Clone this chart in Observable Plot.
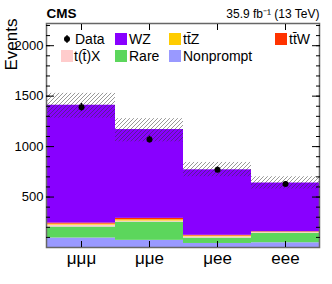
<!DOCTYPE html>
<html><head><meta charset="utf-8">
<script src="https://cdn.jsdelivr.net/npm/d3@7"></script>
<script src="https://cdn.jsdelivr.net/npm/@observablehq/plot@0.6"></script>
<style>body{margin:0;background:#fff} svg{display:block}</style>
</head><body><div id="chart"></div>
<script>
const categories = ["μμμ", "μμe", "μee", "eee"];
const processes = ["Nonprompt", "Rare", "t(t\u0304)X", "tt\u0304Z", "tt\u0304W", "WZ"];
const colors = ["#9999ff", "#5cd65c", "#ffcccc", "#ffcc00", "#ff3300", "#8800ff"];
const nonprompt = [94, 71, 40, 47];
const rare = [109, 181, 54, 93];
const ttX = [19, 10, 12, 8];
const ttZ = [10, 13, 8, 5];
const ttW = [10, 14, 7, 3];
const wz = [1168, 880, 649, 483];
const uncLow = [1282, 1047, 701, 580];
const uncHigh = [1528, 1277, 843, 701];
const dataVal = [1390, 1070, 770, 629];
const dataErr = [37, 33, 28, 25];
const yMajorTicks = [500, 1000, 1500, 2000];
const yMinorTicks = [100,200,300,400,500,600,700,800,900,1000,1100,1200,1300,1400,1500,1600,1700,1800,1900,2000,2100,2200];

const series = [nonprompt, rare, ttX, ttZ, ttW, wz];
const rows = [];
categories.forEach((c, i) => processes.forEach((p, j) => rows.push({cat: c, proc: p, value: series[j][i]})));
const unc = categories.map((c, i) => ({cat: c, lo: uncLow[i], hi: uncHigh[i]}));
const pts = categories.map((c, i) => ({cat: c, v: dataVal[i], lo: dataVal[i] - dataErr[i], hi: dataVal[i] + dataErr[i]}));

const font = "'Liberation Sans', Arial, sans-serif";
const plot = Plot.plot({
  width: 332, height: 284,
  marginTop: 23, marginBottom: 37, marginLeft: 46, marginRight: 13,
  style: {fontFamily: font, background: "#fff", color: "#000"},
  x: {type: "band", domain: categories, padding: 0, label: null},
  y: {domain: [0, 2220], label: null},
  color: {domain: processes, range: colors},
  marks: [
    Plot.barY(rows, {x: "cat", y: "value", fill: "proc", order: processes}),
    Plot.barY(unc, {x: "cat", y1: "lo", y2: "hi", fill: "url(#hatch)"}),
    Plot.ruleX(pts, {x: "cat", y1: "lo", y2: "hi", stroke: "black", strokeWidth: 1.5}),
    Plot.dot(pts, {x: "cat", y: "v", r: 3, fill: "black"}),
    Plot.frame({stroke: "#666", strokeWidth: 1.5}),
    Plot.axisY(yMinorTicks, {anchor: "left", tickSize: -4, text: null, label: null}),
    Plot.axisY(yMajorTicks, {anchor: "left", tickSize: -8, text: null, label: null}),
    Plot.axisY(yMajorTicks, {anchor: "left", tickSize: 0, tickPadding: 3, fontSize: 13, label: null, tickFormat: d3.format("d")}),
    Plot.axisY(yMinorTicks, {anchor: "right", tickSize: -4, text: null, label: null}),
    Plot.axisY(yMajorTicks, {anchor: "right", tickSize: -8, text: null, label: null}),
    Plot.axisX({anchor: "bottom", tickSize: -6, text: null, label: null}),
    Plot.axisX({anchor: "top", tickSize: -6, text: null, label: null}),
    Plot.axisX({anchor: "bottom", tickSize: 0, tickPadding: 4, fontSize: 17, label: null}),
    Plot.text(["CMS"], {frameAnchor: "top-left", text: d => d, textAnchor: "start", lineAnchor: "bottom", dy: -6, fontWeight: "bold", fontSize: 13.5}),
    Plot.text(["35.9 fb\u207B\u00B9 (13 TeV)"], {frameAnchor: "top-right", text: d => d, textAnchor: "end", lineAnchor: "bottom", dy: -6, fontSize: 12}),
    Plot.text(["Events"], {frameAnchor: "top-left", text: d => d, rotate: -90, textAnchor: "end", lineAnchor: "bottom", dx: -30, dy: -5, fontSize: 17})
  ]
});

const svg = d3.select(plot);
const defs = svg.insert("defs", ":first-child");
const pat = defs.append("pattern").attr("id", "hatch").attr("patternUnits", "userSpaceOnUse").attr("width", 4).attr("height", 4);
pat.append("path").attr("d", "M-1,1 l2,-2 M0,4 l4,-4 M3,5 l2,-2").attr("stroke", "rgba(50,50,50,0.5)").attr("stroke-width", 1);

// legend layout (columns x, rows y)
const legendItems = [
  {label: "Data", kind: "data", x: 67, tx: 75, row: 0},
  {label: "WZ", kind: "box", x: 115, tx: 129, row: 0},
  {label: "tt\u0304Z", kind: "box", x: 169, tx: 183, row: 0},
  {label: "tt\u0304W", kind: "box", x: 275, tx: 289, row: 0},
  {label: "t(t\u0304)X", kind: "box", x: 61, tx: 74, row: 1},
  {label: "Rare", kind: "box", x: 115, tx: 129, row: 1},
  {label: "Nonprompt", kind: "box", x: 169, tx: 183, row: 1}
];
const rowY = [39, 56];
const lg = svg.append("g").attr("font-family", font).attr("font-size", 14).attr("text-anchor", "start");
const colorOf = d3.scaleOrdinal(processes, colors);
legendItems.forEach(it => {
  const cy = rowY[it.row];
  if (it.kind === "data") {
    lg.append("circle").attr("cx", it.x).attr("cy", cy).attr("r", 3).attr("fill", "black");
    lg.append("line").attr("x1", it.x).attr("x2", it.x).attr("y1", cy - 4).attr("y2", cy + 4).attr("stroke", "black").attr("stroke-width", 1.2);
  } else {
    lg.append("rect").attr("x", it.x).attr("y", cy - 6).attr("width", 12).attr("height", 12).attr("fill", colorOf(it.label));
  }
  lg.append("text").attr("x", it.tx).attr("y", cy).attr("dy", "0.36em").attr("text-anchor", "start").text(it.label);
});

document.getElementById("chart").append(plot);
</script>
</body></html>
